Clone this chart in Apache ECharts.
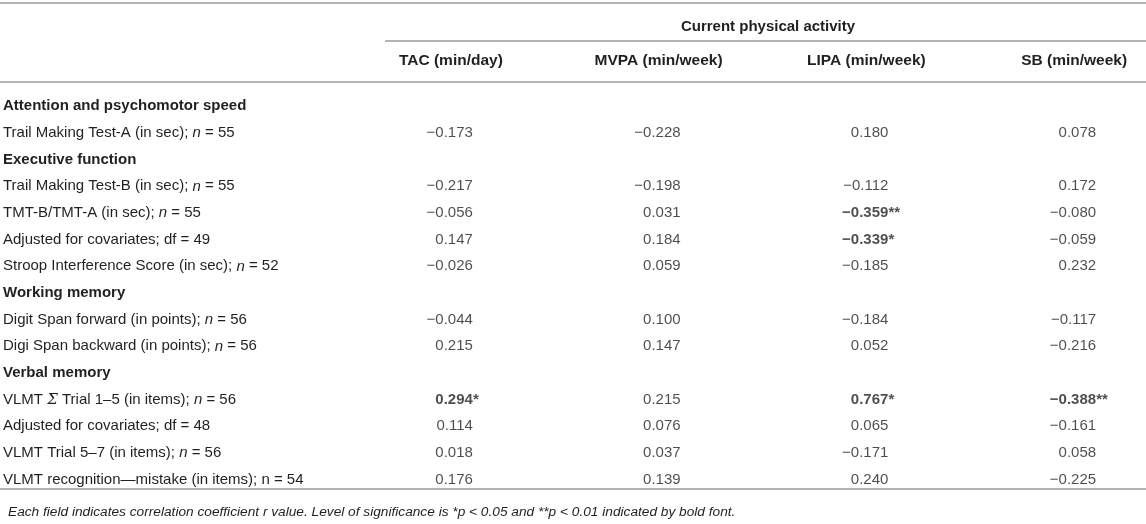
<!DOCTYPE html>
<html>
<head>
<meta charset="utf-8">
<title>Correlations with current physical activity</title>
<script src="https://cdn.jsdelivr.net/npm/echarts@6/dist/echarts.min.js"></script>
<style>
  html, body { margin: 0; padding: 0; background: #fff; }
  #main { width: 1146px; height: 524px; }
</style>
</head>
<body>
<div id="main"></div>
<script>
// table content
var columns = ['TAC (min/day)', 'MVPA (min/week)', 'LIPA (min/week)', 'SB (min/week)'];
var rows = [
  'Attention and psychomotor speed',
  'Trail Making Test-A (in sec); n = 55',
  'Executive function',
  'Trail Making Test-B (in sec); n = 55',
  'TMT-B/TMT-A (in sec); n = 55',
  'Adjusted for covariates; df = 49',
  'Stroop Interference Score (in sec); n = 52',
  'Working memory',
  'Digit Span forward (in points); n = 56',
  'Digi Span backward (in points); n = 56',
  'Verbal memory',
  'VLMT Σ Trial 1–5 (in items); n = 56',
  'Adjusted for covariates; df = 48',
  'VLMT Trial 5–7 (in items); n = 56',
  'VLMT recognition—mistake (in items); n = 54'
];
var sectionRows = [0, 2, 7, 10];
var uprightN = [14];

var tac  = [null, -0.173, null, -0.217, -0.056, 0.147, -0.026, null, -0.044, 0.215, null, 0.294, 0.114, 0.018, 0.176];
var mvpa = [null, -0.228, null, -0.198, 0.031, 0.184, 0.059, null, 0.100, 0.147, null, 0.215, 0.076, 0.037, 0.139];
var lipa = [null, 0.180, null, -0.112, -0.359, -0.339, -0.185, null, -0.184, 0.052, null, 0.767, 0.065, -0.171, 0.240];
var sb   = [null, 0.078, null, 0.172, -0.080, -0.059, 0.232, null, -0.117, -0.216, null, -0.388, -0.161, 0.058, -0.225];

var tacSig  = ['', '', '', '', '', '', '', '', '', '', '', '*', '', '', ''];
var mvpaSig = ['', '', '', '', '', '', '', '', '', '', '', '', '', '', ''];
var lipaSig = ['', '', '', '', '**', '*', '', '', '', '', '', '*', '', '', ''];
var sbSig   = ['', '', '', '', '', '', '', '', '', '', '', '**', '', '', ''];

var groupTitle = 'Current physical activity';
var footnote = 'Each field indicates correlation coefficient r value. Level of significance is *p < 0.05 and **p < 0.01 indicated by bold font.';

var textColor = '#231f20';
var ruleColor = '#b4b4b4';
var font = 'Liberation Sans, Arial, Helvetica, sans-serif';

function fmt(v) {
  var s = Math.abs(v).toFixed(3);
  return v < 0 ? '\u2212' + s : s;
}

var values = [tac, mvpa, lipa, sb];
var sigs = [tacSig, mvpaSig, lipaSig, sbSig];
var numData = [];
var starData = [];
values.forEach(function (col, c) {
  col.forEach(function (v, r) {
    if (v === null) return;
    var s = sigs[c][r];
    numData.push({ value: [c, r, v], label: { fontWeight: s ? 'bold' : 'normal' } });
    if (s) starData.push({ value: [c, r, s] });
  });
});

var chart = echarts.init(document.getElementById('main'));
chart.setOption({
  animation: false,
  textStyle: { fontFamily: font, color: textColor },
  title: [{
    text: groupTitle,
    left: 763,
    top: 14,
    textAlign: 'center',
    textStyle: { fontSize: 15, fontWeight: 'bold', color: textColor, fontFamily: font }
  }, {
    text: footnote,
    left: 3,
    top: 500,
    textStyle: { fontSize: 13.7, fontStyle: 'italic', fontWeight: 'normal', color: textColor, fontFamily: font }
  }],
  grid: { left: 347, right: -32, top: 93, bottom: 31, outerBoundsMode: 'none' },
  xAxis: {
    type: 'category',
    data: columns,
    position: 'top',
    axisLine: { show: false },
    axisTick: { show: false },
    splitLine: { show: false },
    axisLabel: { fontSize: 15.5, fontWeight: 'bold', color: textColor, fontFamily: font, margin: 24 }
  },
  yAxis: {
    type: 'category',
    data: rows,
    inverse: true,
    axisLine: { show: false },
    axisTick: { show: false },
    splitLine: { show: false },
    axisLabel: {
      align: 'left',
      margin: 344,
      fontSize: 15,
      color: textColor,
      fontFamily: font,
      formatter: function (value, idx) {
        if (sectionRows.indexOf(idx) >= 0) return '{b|' + value + '}';
        var s = value.replace('Σ', '{s|Σ}');
        if (uprightN.indexOf(idx) < 0) s = s.replace('; n = ', '; {i|n} = ');
        return s;
      },
      rich: {
        b: { fontSize: 15, fontWeight: 'bold', color: textColor, fontFamily: font },
        i: { fontSize: 15, fontStyle: 'italic', color: textColor, fontFamily: font },
        s: { fontSize: 15, fontStyle: 'italic', color: textColor, fontFamily: 'DejaVu Serif, serif' }
      }
    }
  },
  series: [{
    type: 'scatter',
    symbolSize: 0,
    silent: true,
    data: numData,
    label: {
      show: true,
      position: 'inside',
      align: 'right',
      offset: [22, 0],
      fontSize: 15,
      color: textColor,
      fontFamily: font,
      formatter: function (p) { return fmt(p.value[2]); }
    }
  }, {
    type: 'scatter',
    symbolSize: 0,
    silent: true,
    data: starData,
    label: {
      show: true,
      position: 'inside',
      align: 'left',
      offset: [22, 0],
      fontSize: 15,
      fontWeight: 'bold',
      color: textColor,
      fontFamily: font,
      formatter: function (p) { return p.value[2]; }
    }
  }],
  graphic: [
    { type: 'line', silent: true, shape: { x1: 0, y1: 3, x2: 1146, y2: 3 }, style: { stroke: ruleColor, lineWidth: 2 } },
    { type: 'line', silent: true, shape: { x1: 385, y1: 41, x2: 1146, y2: 41 }, style: { stroke: ruleColor, lineWidth: 2 } },
    { type: 'line', silent: true, shape: { x1: 0, y1: 82, x2: 1146, y2: 82 }, style: { stroke: ruleColor, lineWidth: 2 } },
    { type: 'line', silent: true, shape: { x1: 0, y1: 489, x2: 1146, y2: 489 }, style: { stroke: ruleColor, lineWidth: 2 } }
  ]
});
</script>
</body>
</html>
